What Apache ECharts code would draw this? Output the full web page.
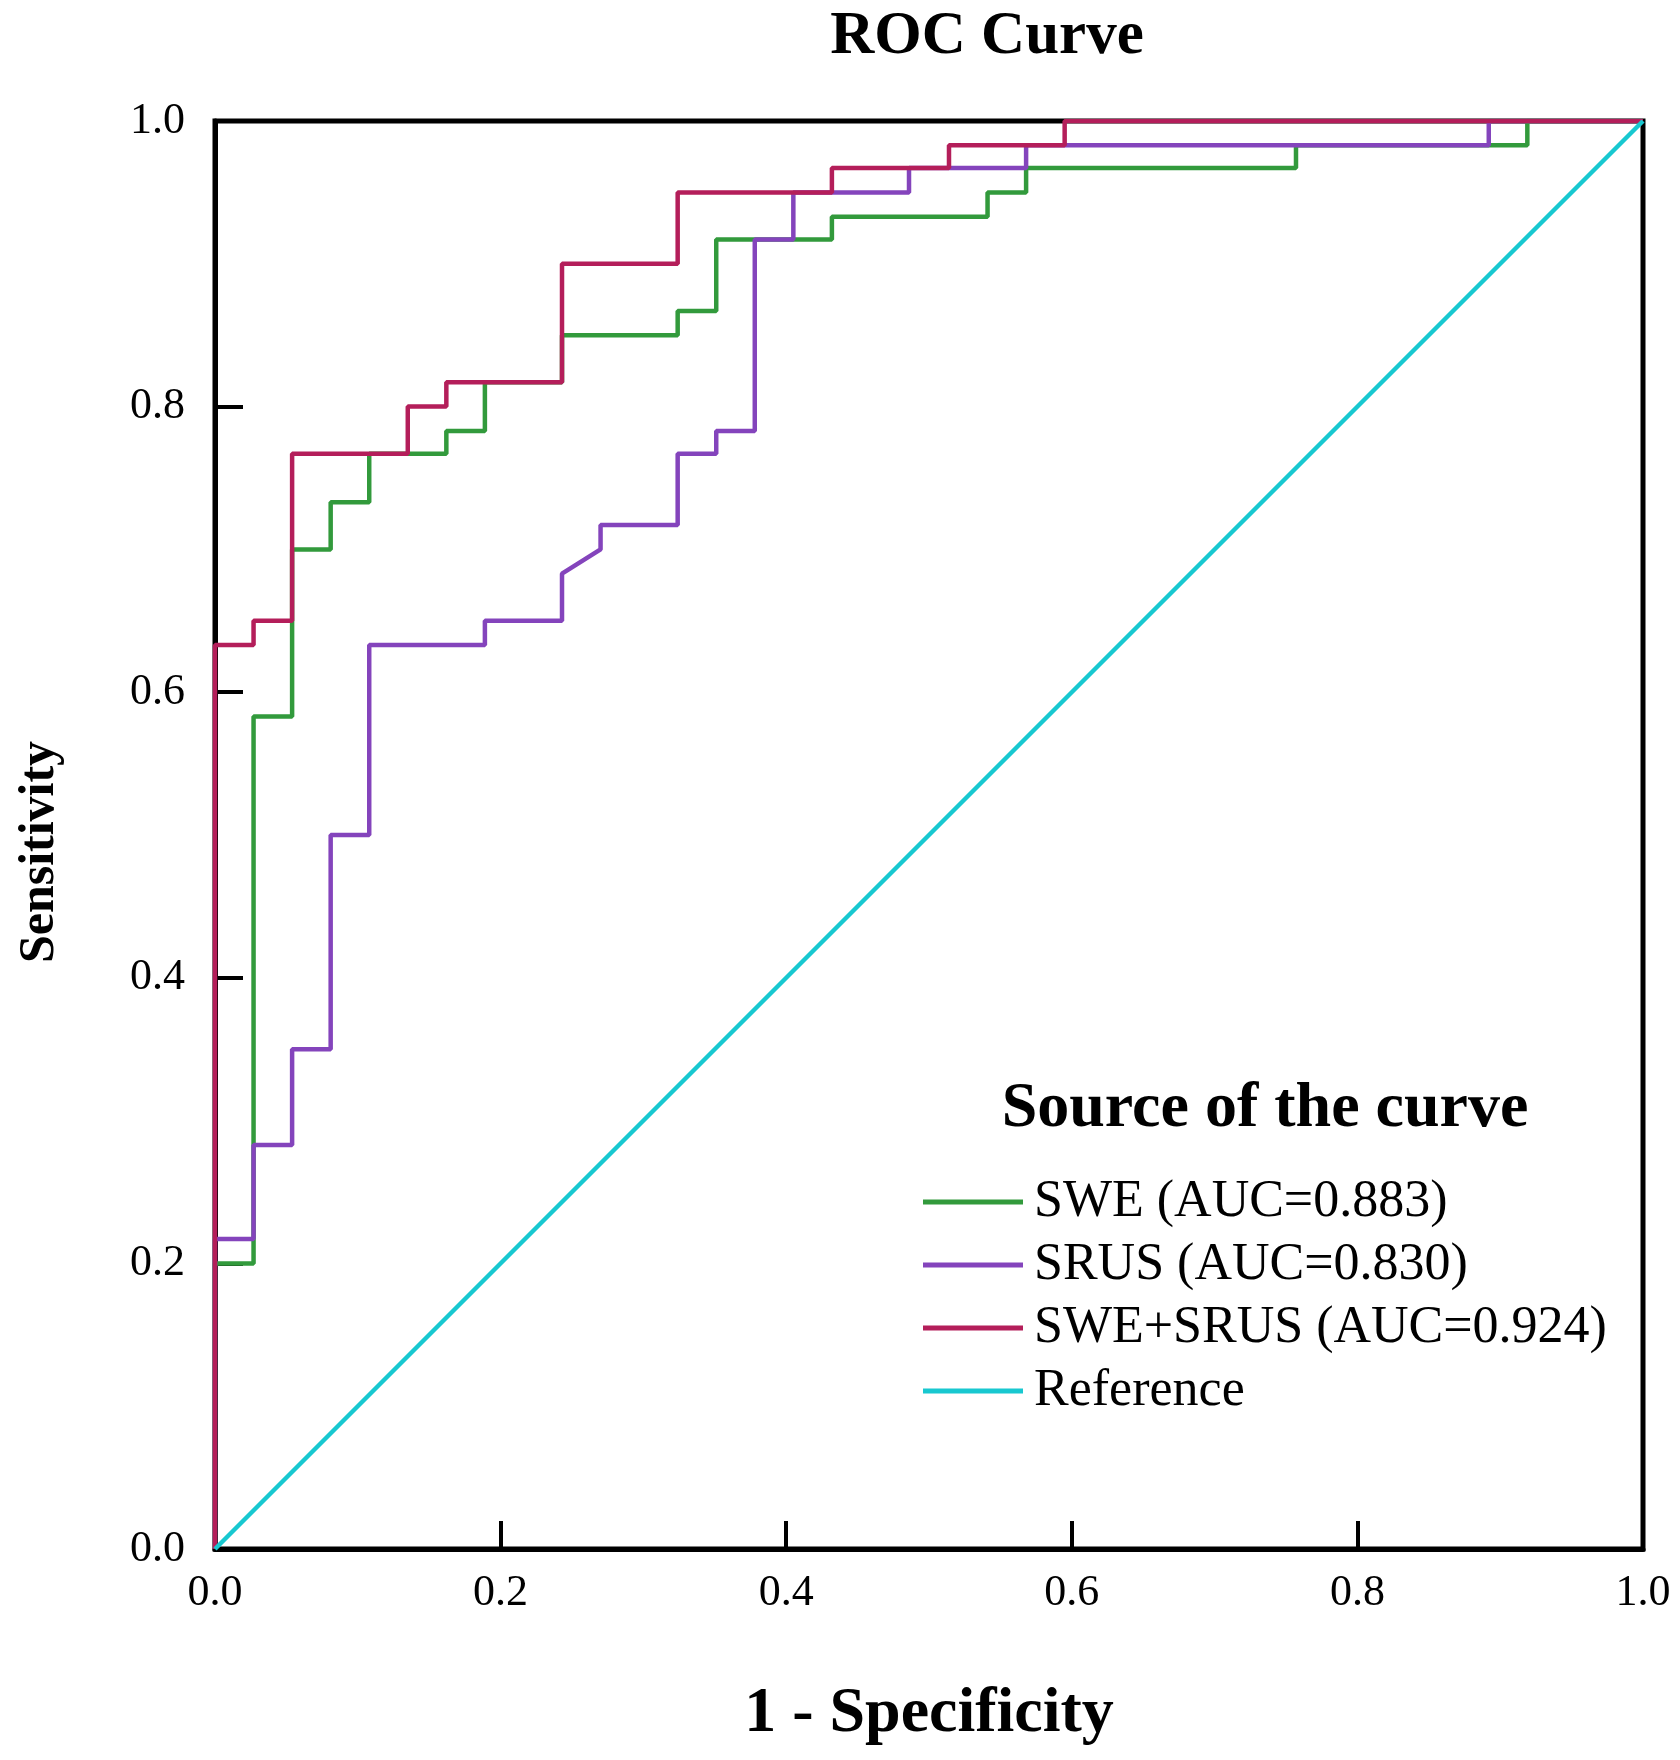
<!DOCTYPE html>
<html>
<head>
<meta charset="utf-8">
<script src="https://cdn.jsdelivr.net/npm/echarts@6/dist/echarts.min.js"></script>
<style>
  html, body { margin: 0; padding: 0; background: #fff; }
  #rocChart { width: 1680px; height: 1760px; }
</style>
</head>
<body>
<div id="rocChart"></div>
<script>
// ROC points (1 - specificity, sensitivity)
var sweFpr  = [0, 0,   0.027, 0.027, 0.054, 0.054, 0.081, 0.081, 0.108, 0.108, 0.162, 0.162, 0.189, 0.189, 0.243, 0.243, 0.324, 0.324, 0.351, 0.351, 0.432, 0.432, 0.541, 0.541, 0.568, 0.568, 0.757, 0.757, 0.919, 0.919, 1]
var sweTpr  = [0, 0.2, 0.2,   0.583, 0.583, 0.7,   0.7,   0.733, 0.733, 0.767, 0.767, 0.783, 0.783, 0.817, 0.817, 0.85,  0.85,  0.867, 0.867, 0.917, 0.917, 0.933, 0.933, 0.95,  0.95,  0.967, 0.967, 0.983, 0.983, 1,     1]

var srusFpr = [0, 0,     0.027, 0.027, 0.054, 0.054, 0.081, 0.081, 0.108, 0.108, 0.189, 0.189, 0.243, 0.243, 0.270, 0.270, 0.324, 0.324, 0.351, 0.351, 0.378, 0.378, 0.405, 0.405, 0.486, 0.486, 0.568, 0.568, 0.892, 0.892, 1]
var srusTpr = [0, 0.217, 0.217, 0.283, 0.283, 0.35,  0.35,  0.5,   0.5,   0.633, 0.633, 0.65,  0.65,  0.683, 0.7,   0.717, 0.717, 0.767, 0.767, 0.783, 0.783, 0.917, 0.917, 0.95,  0.95,  0.967, 0.967, 0.983, 0.983, 1,     1]

var combFpr = [0, 0,     0.027, 0.027, 0.054, 0.054, 0.135, 0.135, 0.162, 0.162, 0.243, 0.243, 0.324, 0.324, 0.432, 0.432, 0.514, 0.514, 0.595, 0.595, 1]
var combTpr = [0, 0.633, 0.633, 0.65,  0.65,  0.767, 0.767, 0.8,   0.8,   0.817, 0.817, 0.9,   0.9,   0.95,  0.95,  0.967, 0.967, 0.983, 0.983, 1,     1]

var refFpr = [0, 1]
var refTpr = [0, 1]

var seriesNames = ["SWE (AUC=0.883)", "SRUS (AUC=0.830)", "SWE+SRUS (AUC=0.924)", "Reference"]
var seriesColors = ["#329a3c", "#8444bc", "#b41e5a", "#18c8d0"]
var axisTicks = [0, 0.2, 0.4, 0.6, 0.8, 1.0]

function zipPoints(xs, ys) {
    return xs.map(function(x, i) { return [x, ys[i]] })
}

var serif = "Liberation Serif"
var rocChart = echarts.init(document.getElementById("rocChart"))

var axisCommon = {
    type: "value",
    min: axisTicks[0],
    max: axisTicks[axisTicks.length - 1],
    interval: 0.2,
    nameLocation: "middle",
    axisLine: { show: true, lineStyle: { color: "#000", width: 5 } },
    axisTick: { show: true, inside: true, length: 28, lineStyle: { color: "#000", width: 4 } },
    splitLine: { show: false },
    axisLabel: {
        color: "#000",
        fontFamily: serif,
        fontSize: 44,
        formatter: function(v) { return v.toFixed(1) }
    }
}

var option = {
    animation: false,
    backgroundColor: "#fff",
    title: [
        {
            text: "ROC Curve",
            left: 982,
            top: 2,
            textAlign: "center",
            textStyle: { fontFamily: serif, fontWeight: "bold", fontSize: 61, color: "#000" }
        },
        {
            text: "Source of the curve",
            left: 1260,
            top: 1072,
            textAlign: "center",
            textStyle: { fontFamily: serif, fontWeight: "bold", fontSize: 64, color: "#000" }
        }
    ],
    grid: {
        left: 215,
        right: 37,
        top: 121,
        bottom: 211,
        show: true,
        borderColor: "#000",
        borderWidth: 5
    },
    legend: {
        orient: "vertical",
        left: 918,
        top: 1171,
        icon: "rect",
        itemWidth: 100,
        itemHeight: 5,
        itemGap: 11,
        data: seriesNames,
        textStyle: {
            fontFamily: serif,
            fontSize: 52,
            lineHeight: 52,
            color: "#000",
            padding: [0, 0, 0, 6]
        }
    },
    xAxis: Object.assign({}, axisCommon, {
        name: "1 - Specificity",
        nameGap: 133,
        nameTextStyle: { fontFamily: serif, fontWeight: "bold", fontSize: 64, color: "#000" },
        axisLabel: Object.assign({}, axisCommon.axisLabel, { margin: 22 })
    }),
    yAxis: Object.assign({}, axisCommon, {
        name: "Sensitivity",
        nameGap: 150,
        nameRotate: 90,
        nameTextStyle: { fontFamily: serif, fontWeight: "bold", fontSize: 50, color: "#000", padding: [0, 34, 0, 0] },
        axisLabel: Object.assign({}, axisCommon.axisLabel, { margin: 30 })
    }),
    series: [
        { name: seriesNames[0], data: zipPoints(sweFpr, sweTpr) },
        { name: seriesNames[1], data: zipPoints(srusFpr, srusTpr) },
        { name: seriesNames[2], data: zipPoints(combFpr, combTpr) },
        { name: seriesNames[3], data: zipPoints(refFpr, refTpr) }
    ].map(function(s, i) {
        return {
            name: s.name,
            type: "line",
            data: s.data,
            symbol: "none",
            color: seriesColors[i],
            itemStyle: { color: seriesColors[i] },
            lineStyle: { color: seriesColors[i], width: 4.5 },
            z: 3 + i
        }
    })
}

rocChart.setOption(option)
</script>
</body>
</html>
